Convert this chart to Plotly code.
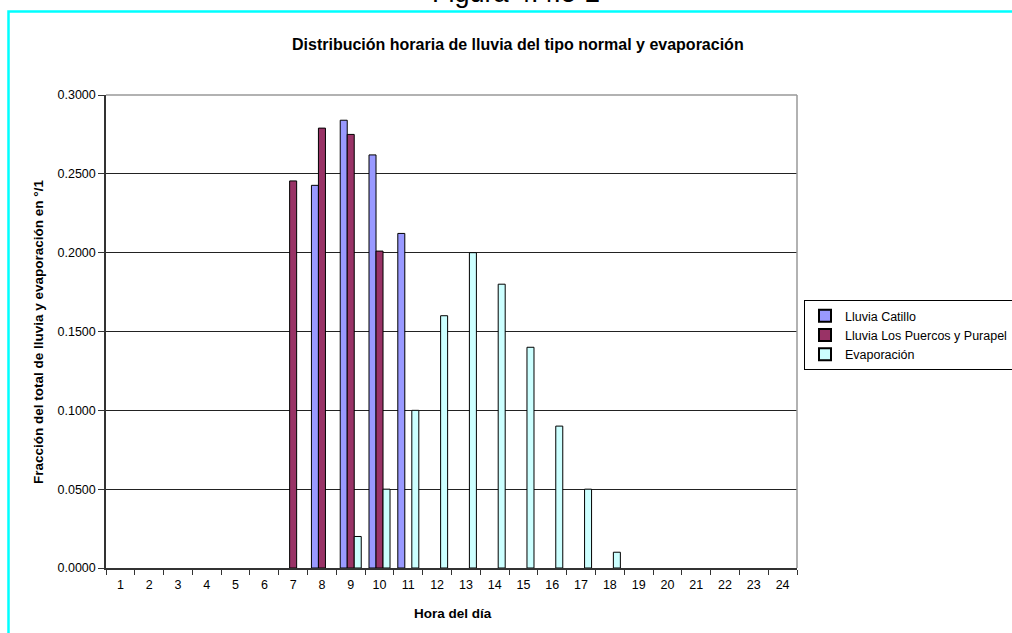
import plotly.graph_objects as go

hours = [str(h) for h in range(1, 25)]
catillo = [None, None, None, None, None, None, None, 0.2427, 0.2840, 0.2620, 0.2122, None, None, None, None, None, None, None, None, None, None, None, None, None]
puercos = [None, None, None, None, None, None, 0.2455, 0.2790, 0.2750, 0.2010, None, None, None, None, None, None, None, None, None, None, None, None, None, None]
evap = [None, None, None, None, None, None, None, None, 0.02, 0.05, 0.10, 0.16, 0.20, 0.18, 0.14, 0.09, 0.05, 0.01, None, None, None, None, None, None]
y_ticks = [0, 0.05, 0.10, 0.15, 0.20, 0.25, 0.30]

L, R, T, B = 106, 797, 95, 568
W, H = 1012, 633
pw, ph = R - L, B - T
def px(x): return (x - L) / pw
def py(y): return (B - y) / ph

FAM = "Arial, Liberation Sans, sans-serif"

fig = go.Figure()
line = dict(color="black", width=1)
fig.add_trace(go.Bar(x=hours, y=catillo, name="Lluvia Catillo", marker=dict(color="#9999FF", line=line)))
fig.add_trace(go.Bar(x=hours, y=puercos, name="Lluvia Los Puercos y Purapel", marker=dict(color="#993366", line=line)))
fig.add_trace(go.Bar(x=hours, y=evap, name="Evaporación", marker=dict(color="#CCFFFF", line=line)))

fig.update_layout(
    width=W, height=H,
    margin=dict(l=L, r=W - R, t=T, b=H - B, pad=0, autoexpand=False),
    paper_bgcolor="white", plot_bgcolor="white",
    barmode="group", bargap=0.27, bargroupgap=0,
    font=dict(family=FAM, size=12.5, color="black"),
    showlegend=True,
    legend=dict(x=px(804), y=py(300), xanchor="left", yanchor="top",
                bordercolor="black", borderwidth=1, font=dict(size=12.5),
                tracegroupgap=0, itemsizing="constant", itemwidth=30),
    xaxis=dict(type="category", showline=True, linecolor="#333333", linewidth=1.5,
               ticks="outside", ticklen=5, tickcolor="#333333", tickson="boundaries",
               showgrid=False, tickfont=dict(size=12.5), ticklabelstandoff=4, fixedrange=True),
    yaxis=dict(range=[0, 0.3], tickvals=y_ticks, tickformat=".4f", showline=True,
               linecolor="#333333", linewidth=1.5, ticks="outside", ticklen=6,
               tickcolor="#333333", showgrid=True, gridcolor="#222222", gridwidth=1,
               zeroline=False, tickfont=dict(size=12.5), fixedrange=True),
)

shapes = [
    dict(type="line", xref="paper", yref="paper", x0=0, x1=1, y0=1, y1=1,
         line=dict(color="#999999", width=1.5)),
    dict(type="line", xref="paper", yref="paper", x0=1, x1=1, y0=0, y1=1,
         line=dict(color="#999999", width=1.5)),
    dict(type="rect", xref="paper", yref="paper", x0=px(8.5), x1=px(1020), y0=py(645), y1=py(11.5),
         line=dict(color="#00FFFF", width=2.5), fillcolor="rgba(0,0,0,0)", layer="below"),
]
fig.update_layout(shapes=shapes)

fig.add_annotation(text="Figura 4.4.5-2", xref="paper", yref="paper", x=px(516), y=py(10),
                   xanchor="center", yanchor="bottom", showarrow=False,
                   font=dict(family=FAM, size=27, color="black"))
fig.add_annotation(text="<b>Distribución horaria de lluvia del tipo normal y evaporación</b>",
                   xref="paper", yref="paper", x=px(518), y=py(45), xanchor="center", yanchor="middle",
                   showarrow=False, font=dict(family=FAM, size=16, color="black"))
fig.add_annotation(text="<b>Fracción del total de lluvia y evaporación en °/1</b>",
                   xref="paper", yref="paper", x=px(38), y=py(332), xanchor="center", yanchor="middle",
                   textangle=-90, showarrow=False,
                   font=dict(family=FAM, size=13.5, color="black"))
fig.add_annotation(text="<b>Hora del día</b>", xref="paper", yref="paper", x=px(453), y=py(613),
                   xanchor="center", yanchor="middle", showarrow=False,
                   font=dict(family=FAM, size=13.5, color="black"))

fig.write_html("out.html", config={"displayModeBar": False},
               post_script="document.body.style.margin='0';document.body.style.overflow='hidden';")
